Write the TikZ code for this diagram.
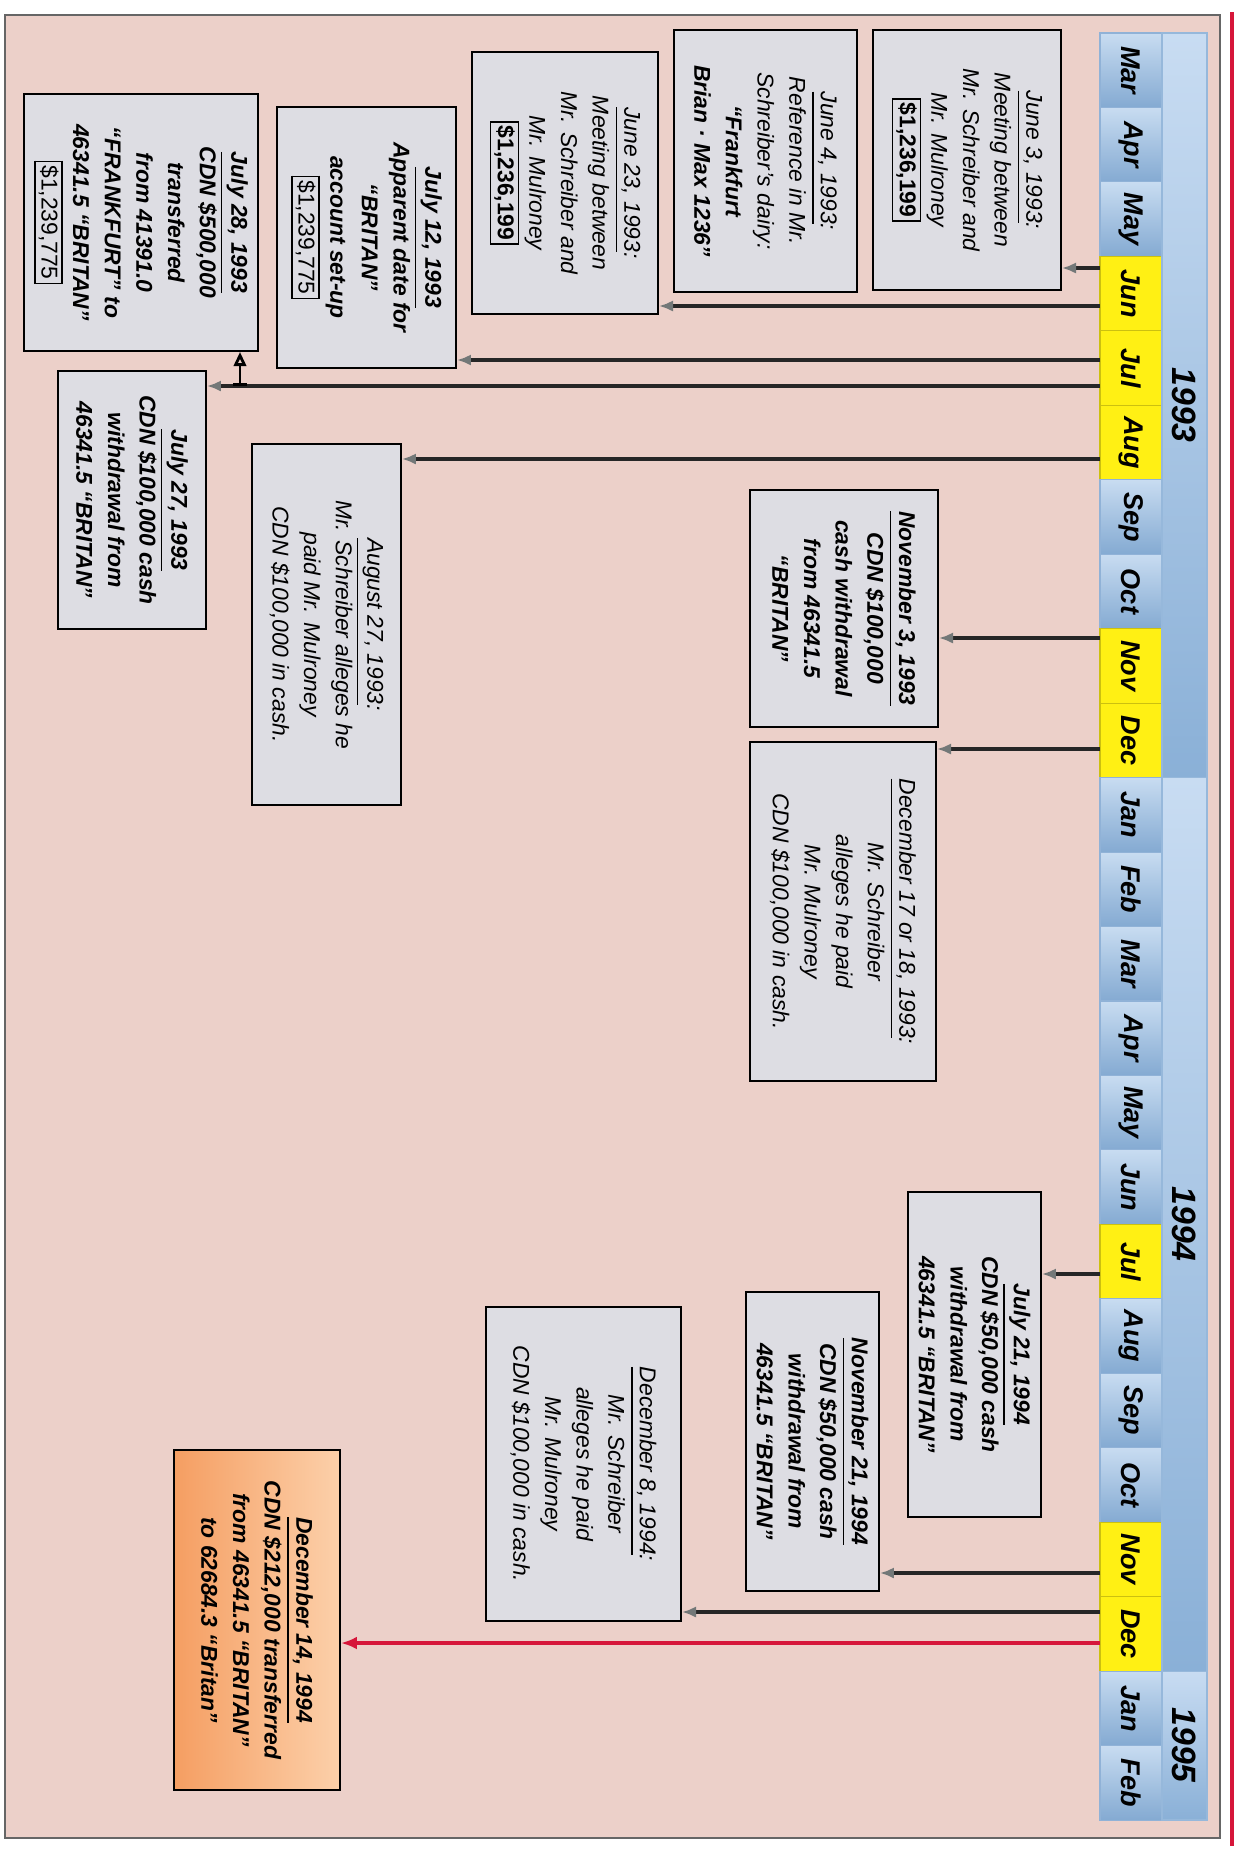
\documentclass[tikz,border=0pt]{standalone}
\usepackage{fontspec}
\setmainfont{Liberation Sans}
\usetikzlibrary{arrows.meta}
\definecolor{PinkBg}{RGB}{236,208,201}
\definecolor{BoxGray}{RGB}{221,221,227}
\definecolor{MonthLight}{RGB}{200,220,241}
\definecolor{MonthDark}{RGB}{132,170,210}
\definecolor{YearLight}{RGB}{200,220,242}
\definecolor{YearDark}{RGB}{138,176,215}
\definecolor{MonthYellow}{RGB}{255,240,20}
\definecolor{FrameRed}{RGB}{214,22,58}
\definecolor{TipGray}{RGB}{115,120,120}
\definecolor{OrangeDark}{RGB}{245,158,98}
\definecolor{OrangeLight}{RGB}{252,208,170}
\setlength{\fboxsep}{0.8pt}
\setlength{\fboxrule}{0.5pt}
\newcommand{\amt}[1]{\fbox{\upshape #1}}
\begin{document}
\begin{tikzpicture}[x=0.01cm, y=-0.01cm,
    evbox/.style={draw, line width=0.5pt, fill=BoxGray, rotate=-90, align=center, inner sep=1.5pt,
      font=\fontsize{6.5}{9}\selectfont\itshape},
    boldbox/.style={evbox, font=\fontsize{6.5}{9}\selectfont\bfseries\itshape},
    evarrow/.style={draw=black!85, line width=1pt, -{Latex[length=4pt,width=3.2pt,color=TipGray]}},
    redarrow/.style={draw=FrameRed, line width=1.2pt, -{Latex[length=4.5pt,width=3.6pt]}},
    brarrow/.style={draw=black, line width=0.8pt, {Bar[width=4pt]}-{Triangle[open,length=4pt,width=3.5pt]}},
    mcell/.style={top color=MonthLight, bottom color=MonthDark, draw=MonthDark!90, line width=0.3pt},
    ycell/.style={fill=MonthYellow, draw=MonthYellow!80!black, line width=0.3pt},
    yearcell/.style={top color=YearLight, bottom color=YearDark, draw=YearDark!90, line width=0.3pt},
    mtext/.style={rotate=-90, font=\fontsize{7.7}{9}\selectfont\bfseries\itshape},
    ytext/.style={rotate=-90, font=\fontsize{9.6}{11}\selectfont\bfseries\itshape}]
  \useasboundingbox (0,0) rectangle (1235,1850);
  \fill[white] (0,0) rectangle (1235,1850);
  \draw[black!60, fill=PinkBg] (5,15) rectangle (1220,1838);
  \draw[FrameRed, line width=1.4pt] (1232,12) -- (1232,1846);

  \foreach \m/\s [count=\i from 0] in {Mar/mcell, Apr/mcell, May/mcell, Jun/ycell, Jul/ycell,
      Aug/ycell, Sep/mcell, Oct/mcell, Nov/ycell, Dec/ycell, Jan/mcell, Feb/mcell, Mar/mcell,
      Apr/mcell, May/mcell, Jun/mcell, Jul/ycell, Aug/mcell, Sep/mcell, Oct/mcell, Nov/ycell,
      Dec/ycell, Jan/mcell, Feb/mcell}{
    \path[\s] (1100, {33+74.46*\i}) rectangle (1162, {33+74.46*(\i+1)});
    \node (M\i) [mtext] at (1131, {33+74.46*(\i+0.5)}) {\m};
  }
  \path[yearcell] (1162,33) rectangle (1207,777.6);
  \path[yearcell] (1162,777.6) rectangle (1207,1671.1);
  \path[yearcell] (1162,1671.1) rectangle (1207,1820);
  \node (Y93) [ytext] at (1184.5,405) {1993};
  \node (Y94) [ytext] at (1184.5,1224) {1994};
  \node (Y95) [ytext] at (1184.5,1745) {1995};

  \node (Jun3) [evbox, minimum width=2.6cm, minimum height=1.88cm] at (967,160)
    {\underline{June 3, 1993}:\\Meeting between\\Mr. Schreiber and\\Mr. Mulroney\\\amt{\bfseries\$1,236,199}};
  \node (Jun4) [evbox, minimum width=2.62cm, minimum height=1.83cm] at (765.5,161)
    {\underline{June 4, 1993}:\\Reference in Mr.\\Schreiber's dairy:\\\textbf{“Frankfurt}\\\textbf{Brian · Max 1236”}};
  \node (Jun23) [evbox, minimum width=2.62cm, minimum height=1.86cm] at (565,183)
    {\underline{June 23, 1993}:\\Meeting between\\Mr. Schreiber and\\Mr. Mulroney\\\amt{\bfseries\$1,236,199}};
  \node (Jul12) [boldbox, minimum width=2.61cm, minimum height=1.79cm] at (366.5,237.5)
    {\underline{July 12, 1993}\\Apparent date for\\“BRITAN”\\account set-up\\\amt{\mdseries\$1,239,775}};
  \node (Jul28) [boldbox, minimum width=2.57cm, minimum height=2.34cm] at (141,222.5)
    {\underline{July 28, 1993}\\CDN \$500,000\\transferred\\from 41391.0\\“FRANKFURT” to\\46341.5 “BRITAN”\\\amt{\mdseries\$1,239,775}};
  \node (Jul27) [boldbox, minimum width=2.58cm, minimum height=1.48cm] at (132,500)
    {\underline{July 27, 1993}\\CDN \$100,000 cash\\withdrawal from\\46341.5 “BRITAN”};
  \node (Aug27) [evbox, minimum width=3.61cm, minimum height=1.49cm] at (326.5,624.5)
    {\underline{August 27, 1993}:\\Mr. Schreiber alleges he\\paid Mr. Mulroney\\CDN \$100,000 in cash.};
  \node (Nov3) [boldbox, minimum width=2.37cm, minimum height=1.88cm] at (844,608.5)
    {\underline{November 3, 1993}\\CDN \$100,000\\cash withdrawal\\from 46341.5\\“BRITAN”};
  \node (Dec17) [evbox, minimum width=3.39cm, minimum height=1.86cm] at (843,911.5)
    {\underline{December 17 or 18, 1993}:\\Mr. Schreiber\\alleges he paid\\Mr. Mulroney\\CDN \$100,000 in cash.};
  \node (Jul21) [boldbox, minimum width=3.25cm, minimum height=1.33cm] at (974.5,1354.5)
    {\underline{July 21, 1994}\\CDN \$50,000 cash\\withdrawal from\\46341.5 “BRITAN”};
  \node (Nov21) [boldbox, minimum width=2.99cm, minimum height=1.33cm] at (812.5,1441.5)
    {\underline{November 21, 1994}\\CDN \$50,000 cash\\withdrawal from\\46341.5 “BRITAN”};
  \node (Dec8) [evbox, minimum width=3.14cm, minimum height=1.95cm] at (583.5,1464)
    {\underline{December 8, 1994}:\\Mr. Schreiber\\alleges he paid\\Mr. Mulroney\\CDN \$100,000 in cash.};
  \node (Dec14) [boldbox, left color=OrangeDark, right color=OrangeLight, minimum width=3.4cm, minimum height=1.66cm] at (257,1620)
    {\underline{December 14, 1994}\\CDN \$212,000 transferred\\from 46341.5 “BRITAN”\\to 62684.3 “Britan”};

  \coordinate (Jun3Tick) at (1100,268);
  \coordinate (Jun23Tick) at (1100,306);
  \coordinate (Jul12Tick) at (1100,360);
  \coordinate (Jul27Tick) at (1100,386);
  \coordinate (Jul28Mid) at (240,386);
  \coordinate (Aug27Tick) at (1100,459);
  \coordinate (Nov3Tick) at (1100,638);
  \coordinate (Dec17Tick) at (1100,749);
  \coordinate (Jul21Tick) at (1100,1274);
  \coordinate (Nov21Tick) at (1100,1573);
  \coordinate (Dec8Tick) at (1100,1612);
  \coordinate (Dec14Tick) at (1100,1643);

  \draw[evarrow] (Jun3Tick) -- (Jun3.north |- Jun3Tick);
  \draw[evarrow] (Jun23Tick) -- (Jun23.north |- Jun23Tick);
  \draw[evarrow] (Jul12Tick) -- (Jul12.north |- Jul12Tick);
  \draw[evarrow] (Jul27Tick) -- (Jul27.north |- Jul27Tick);
  \draw[brarrow] (Jul28Mid) -- (Jul28Mid |- Jul28.east);
  \draw[evarrow] (Aug27Tick) -- (Aug27.north |- Aug27Tick);
  \draw[evarrow] (Nov3Tick) -- (Nov3.north |- Nov3Tick);
  \draw[evarrow] (Dec17Tick) -- (Dec17.north |- Dec17Tick);
  \draw[evarrow] (Jul21Tick) -- (Jul21.north |- Jul21Tick);
  \draw[evarrow] (Nov21Tick) -- (Nov21.north |- Nov21Tick);
  \draw[evarrow] (Dec8Tick) -- (Dec8.north |- Dec8Tick);
  \draw[redarrow] (Dec14Tick) -- (Dec14.north |- Dec14Tick);
\end{tikzpicture}
\end{document}
